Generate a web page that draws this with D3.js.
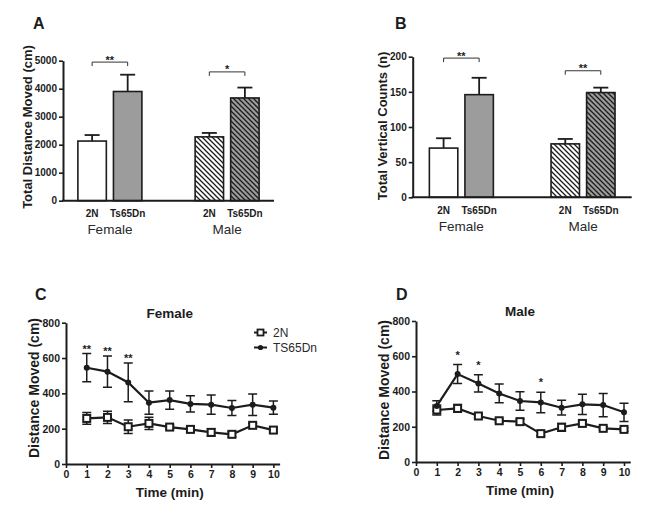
<!DOCTYPE html>
<html><head><meta charset="utf-8">
<script src="https://cdn.jsdelivr.net/npm/d3@7"></script>
<style>
body{margin:0;background:#fff;}
svg{display:block;font-family:Arial,"Liberation Sans",sans-serif;}
</style></head>
<body><svg id="c" width="651" height="513"></svg>
<script>
// ---------- data ----------
const groups = ["Female", "Male"];
const genotypes = ["2N", "Ts65Dn"];
const distanceMean = [[2130, 3900], [2280, 3670]];   // [group][genotype]
const distanceSem  = [[215, 600], [140, 370]];
const distanceSig  = [{group: "Female", label: "**", level: 4950}, {group: "Male", label: "*", level: 4600}];
const verticalMean = [[70, 146], [76, 149]];
const verticalSem  = [[14, 24], [7, 7]];
const verticalSig  = [{group: "Female", label: "**", level: 198}, {group: "Male", label: "**", level: 180}];
const distTicks = [0, 1000, 2000, 3000, 4000, 5000];
const vertTicks = [0, 50, 100, 150, 200];

const minutes = [1, 2, 3, 4, 5, 6, 7, 8, 9, 10];
const timeTicks = [0, 1, 2, 3, 4, 5, 6, 7, 8, 9, 10];
const moveTicks = [0, 200, 400, 600, 800];
const female2N      = [258, 264, 211, 230, 209, 196, 179, 168, 219, 192];
const female2NSem   = [33, 34, 38, 35, 12, 15, 20, 15, 12, 12];
const femaleTS      = [545, 523, 462, 347, 362, 340, 336, 317, 336, 319];
const femaleTSSem   = [80, 88, 110, 66, 52, 46, 54, 42, 61, 37];
const femaleSig     = ["**", "**", "**", "", "", "", "", "", "", ""];
const male2N        = [295, 304, 261, 234, 229, 161, 197, 219, 191, 185];
const male2NSem     = [28, 22, 10, 10, 15, 12, 22, 12, 10, 10];
const maleTS        = [318, 499, 446, 389, 346, 338, 308, 327, 323, 282];
const maleTSSem     = [30, 54, 49, 53, 53, 58, 42, 58, 66, 52];
const maleSig       = ["", "*", "*", "", "", "*", "", "", "", ""];
const legendLabels  = ["2N", "TS65Dn"];

// ---------- drawing ----------
const svg = d3.select("#c");
const INK = "#1c1c1c";
const GRAY = "#9c9c9c";
const fmt = d3.format("d");

const defs = svg.append("defs");
function hatch(id, bg) {
  const p = defs.append("pattern").attr("id", id).attr("patternUnits", "userSpaceOnUse")
    .attr("width", 5).attr("height", 5);
  p.append("rect").attr("width", 5).attr("height", 5).attr("fill", bg);
  p.append("path").attr("d", "M0,0L5,5M-1,4L1,6M4,-1L6,1")
    .attr("stroke", INK).attr("stroke-width", 1.3);
}
hatch("hw", "#ffffff");
hatch("hg", GRAY);
const fills = {Female: ["#ffffff", GRAY], Male: ["url(#hw)", "url(#hg)"]};

function styleAxis(g, fs) {
  g.select(".domain").attr("stroke", INK).attr("stroke-width", 2);
  g.selectAll(".tick line").attr("stroke", INK).attr("stroke-width", 1.6);
  g.selectAll(".tick text").attr("fill", INK).attr("font-size", fs).attr("font-weight", "bold")
    .attr("font-family", "Arial, 'Liberation Sans', sans-serif");
}

function letter(txt, x, y) {
  svg.append("text").attr("x", x).attr("y", y).text(txt)
    .attr("font-size", 16).attr("font-weight", "bold").attr("fill", INK);
}
function yTitle(txt, x, y, fs) {
  svg.append("text").attr("transform", `translate(${x},${y}) rotate(-90)`)
    .attr("text-anchor", "middle").attr("font-size", fs).attr("font-weight", "bold")
    .attr("fill", INK).text(txt);
}

function barPanel(o) {
  const y = d3.scaleLinear().domain([0, o.ymax]).range([o.y0, o.yTop]);
  const gx = d3.scaleBand().domain(groups).range([o.x0, o.x1]).paddingInner(0.2).paddingOuter(0);
  const inner = (grp) => {
    const c = gx(grp) + gx.bandwidth() / 2;
    return d3.scaleBand().domain(genotypes).range([c - 32, c + 32]).paddingInner(0.2);
  };
  const g = svg.append("g");
  groups.forEach((grp, gi) => {
    const xi = inner(grp);
    genotypes.forEach((gt, ti) => {
      const m = o.mean[gi][ti], s = o.sem[gi][ti];
      const bx = xi(gt), bw = xi.bandwidth(), cx = bx + bw / 2;
      g.append("line").attr("x1", cx).attr("x2", cx).attr("y1", y(m)).attr("y2", y(m + s))
        .attr("stroke", INK).attr("stroke-width", 1.8);
      g.append("line").attr("x1", cx - 7.5).attr("x2", cx + 7.5).attr("y1", y(m + s)).attr("y2", y(m + s))
        .attr("stroke", INK).attr("stroke-width", 1.8);
      g.append("rect").attr("x", bx).attr("y", y(m)).attr("width", bw).attr("height", y(0) - y(m))
        .attr("fill", fills[grp][ti]).attr("stroke", INK).attr("stroke-width", 1.6);
      g.append("text").attr("x", cx).attr("y", o.y0 + 16.5).attr("text-anchor", "middle")
        .attr("font-size", 10).attr("font-weight", "bold").attr("fill", INK).text(gt);
    });
    g.append("text").attr("x", gx(grp) + gx.bandwidth() / 2).attr("y", o.y0 + 33.5)
      .attr("text-anchor", "middle").attr("font-size", 13.5).attr("fill", "#2a2a2a").text(grp);
  });
  o.sig.forEach(sg => {
    const xi = inner(sg.group);
    const a = xi("2N") + xi.bandwidth() / 2, b = xi("Ts65Dn") + xi.bandwidth() / 2;
    const yy = y(sg.level);
    g.append("path").attr("d", `M${a},${yy + 4}V${yy}H${b}V${yy + 4}`)
      .attr("fill", "none").attr("stroke", "#333").attr("stroke-width", 1);
    g.append("text").attr("x", (a + b) / 2).attr("y", yy + 1.5).attr("text-anchor", "middle")
      .attr("font-size", 11).attr("font-weight", "bold").attr("fill", INK).text(sg.label);
  });
  const ax = g.append("g").attr("transform", `translate(${o.x0},0)`)
    .call(d3.axisLeft(y).tickValues(o.ticks).tickFormat(fmt).tickSize(4).tickSizeOuter(0).tickPadding(2));
  styleAxis(ax, 10);
  g.append("line").attr("x1", o.x0 - 1).attr("x2", o.x1).attr("y1", o.y0).attr("y2", o.y0)
    .attr("stroke", INK).attr("stroke-width", 2);
}

barPanel({x0: 63, x1: 274, y0: 200.7, yTop: 60.7, ymax: 5000, ticks: distTicks,
  mean: distanceMean, sem: distanceSem, sig: distanceSig});
barPanel({x0: 412.7, x1: 631.7, y0: 197.3, yTop: 56.7, ymax: 200, ticks: vertTicks,
  mean: verticalMean, sem: verticalSem, sig: verticalSig});
letter("A", 33, 29);
letter("B", 395, 29);
yTitle("Total Distance Moved (cm)", 31.5, 127, 13);
yTitle("Total Vertical Counts (n)", 387, 126, 13);

function linePanel(o) {
  const x = d3.scaleLinear().domain([0, 10.3]).range([o.x0, o.x0 + 10.3 * o.unit]);
  const y = d3.scaleLinear().domain([0, 800]).range([o.y0, o.yTop]);
  const g = svg.append("g");
  const line = d3.line().x((d, i) => x(minutes[i])).y(d => y(d));
  const series = [
    {v: o.n2, s: o.n2s, type: "sq"},
    {v: o.ts, s: o.tss, type: "ci"}
  ];
  series.forEach(sr => {
    sr.v.forEach((m, i) => {
      const cx = x(minutes[i]);
      g.append("path").attr("d",
        `M${cx},${y(m - sr.s[i])}V${y(m + sr.s[i])}M${cx - 4.5},${y(m + sr.s[i])}H${cx + 4.5}M${cx - 4.5},${y(m - sr.s[i])}H${cx + 4.5}`)
        .attr("stroke", INK).attr("stroke-width", 1.5).attr("fill", "none");
    });
    g.append("path").datum(sr.v).attr("d", line).attr("fill", "none")
      .attr("stroke", INK).attr("stroke-width", 2.2);
  });
  series.forEach(sr => {
    sr.v.forEach((m, i) => {
      const cx = x(minutes[i]), cy = y(m);
      if (sr.type === "sq") {
        g.append("rect").attr("x", cx - 3.5).attr("y", cy - 3.5).attr("width", 7).attr("height", 7)
          .attr("fill", "#fff").attr("stroke", INK).attr("stroke-width", 2);
      } else {
        g.append("circle").attr("cx", cx).attr("cy", cy).attr("r", 3).attr("fill", INK);
      }
    });
  });
  o.sig.forEach((lab, i) => {
    if (!lab) return;
    g.append("text").attr("x", x(minutes[i])).attr("y", y(o.ts[i] + o.tss[i]) - o.starOff)
      .attr("text-anchor", "middle").attr("font-size", 11).attr("font-weight", "bold")
      .attr("fill", INK).text(lab);
  });
  const ay = g.append("g").attr("transform", `translate(${o.x0},0)`)
    .call(d3.axisLeft(y).tickValues(moveTicks).tickFormat(fmt).tickSize(4).tickSizeOuter(0).tickPadding(2));
  styleAxis(ay, 10.5);
  const axb = g.append("g").attr("transform", `translate(0,${o.y0})`)
    .call(d3.axisBottom(x).tickValues(timeTicks).tickFormat(fmt).tickSize(4).tickSizeOuter(0).tickPadding(3));
  styleAxis(axb, 10.5);
  g.append("text").attr("x", x(5)).attr("y", o.y0 + 33).attr("text-anchor", "middle")
    .attr("font-size", 13.5).attr("font-weight", "bold").attr("fill", INK).text("Time (min)");
  g.append("text").attr("x", x(5)).attr("y", o.yTop - 5).attr("text-anchor", "middle")
    .attr("font-size", 13.5).attr("font-weight", "bold").attr("fill", INK).text(o.title);
  if (o.legend) {
    const lx = o.legend[0], ly = o.legend[1];
    legendLabels.forEach((lab, k) => {
      const yy = ly + k * 15;
      g.append("line").attr("x1", lx).attr("x2", lx + 13).attr("y1", yy).attr("y2", yy)
        .attr("stroke", INK).attr("stroke-width", 2);
      if (k === 0) g.append("rect").attr("x", lx + 3.5).attr("y", yy - 3).attr("width", 6).attr("height", 6)
        .attr("fill", "#fff").attr("stroke", INK).attr("stroke-width", 1.8);
      else g.append("circle").attr("cx", lx + 6.5).attr("cy", yy).attr("r", 2.6).attr("fill", INK);
      g.append("text").attr("x", lx + 19).attr("y", yy + 4.2).attr("font-size", 12)
        .attr("fill", "#2a2a2a").text(lab);
    });
  }
}

linePanel({x0: 66, unit: 20.74, y0: 464, yTop: 322.7, title: "Female",
  n2: female2N, n2s: female2NSem, ts: femaleTS, tss: femaleTSSem, sig: femaleSig,
  starOff: 1, legend: [254, 332.5]});
linePanel({x0: 416, unit: 20.8, y0: 462, yTop: 321, title: "Male",
  n2: male2N, n2s: male2NSem, ts: maleTS, tss: maleTSSem, sig: maleSig, starOff: 6});
letter("C", 35, 300);
letter("D", 396, 300);
yTitle("Distance Moved (cm)", 38.5, 388, 14);
yTitle("Distance Moved (cm)", 388.5, 390, 14);
</script></body></html>
